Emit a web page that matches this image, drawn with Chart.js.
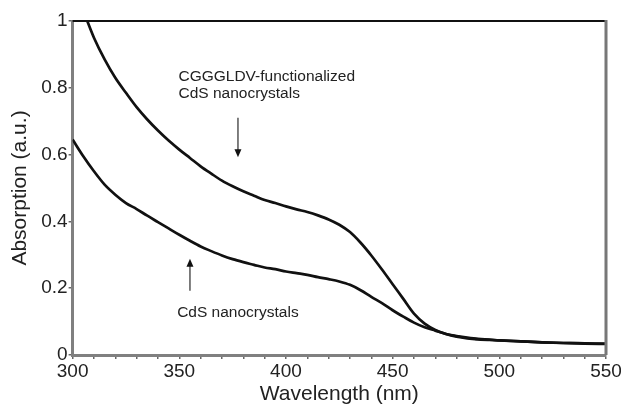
<!DOCTYPE html>
<html>
<head>
<meta charset="utf-8">
<script src="https://cdn.jsdelivr.net/npm/chart.js@4/dist/chart.umd.min.js"></script>
<style>
html,body{margin:0;padding:0;background:#fff;}
#wrap{width:621px;height:405px;position:relative;}
</style>
</head>
<body>
<div id="wrap"><canvas id="c" width="621" height="405"></canvas></div>
<script>
const wavelengths = [300,305,310,315,320,325,330,335,340,345,350,355,360,365,370,375,380,385,390,395,400,405,410,415,420,425,430,435,440,445,450,455,460,465,470,475,480,485,490,500,510,520,530,540,550];
const functionalized = [1.10,1.03,0.95,0.885,0.83,0.785,0.742,0.705,0.672,0.642,0.615,0.59,0.565,0.543,0.522,0.505,0.49,0.477,0.464,0.455,0.445,0.436,0.428,0.418,0.406,0.39,0.368,0.336,0.298,0.256,0.212,0.168,0.124,0.094,0.075,0.063,0.055,0.05,0.047,0.044,0.041,0.038,0.036,0.035,0.034];
const bare = [0.645,0.595,0.55,0.51,0.48,0.455,0.437,0.417,0.398,0.379,0.36,0.342,0.325,0.311,0.298,0.287,0.278,0.27,0.262,0.257,0.25,0.245,0.24,0.233,0.227,0.22,0.21,0.194,0.174,0.155,0.134,0.115,0.097,0.083,0.073,0.063,0.057,0.052,0.048,0.044,0.041,0.038,0.036,0.034,0.033];
const yTicks = [0,0.2,0.4,0.6,0.8,1];
const xLabelTicks = [300,350,400,450,500,550];
const annotations = [
  {lines:["CGGGLDV-functionalized","CdS nanocrystals"], x:349.6, y:0.832, arrowX:377.5, arrowFrom:0.71, arrowTo:0.592},
  {lines:["CdS nanocrystals"], x:349, y:0.126, arrowX:355, arrowFrom:0.192, arrowTo:0.288}
];

const FONT = "'Liberation Sans', Arial, Helvetica, sans-serif";

const framePlugin = {
  id:'frame',
  afterDatasetsDraw(chart){
    const {ctx, chartArea:a} = chart;
    ctx.save();
    ctx.strokeStyle = '#111';
    ctx.lineWidth = 2;
    ctx.beginPath();
    ctx.moveTo(a.left, a.top);
    ctx.lineTo(a.right+1, a.top);
    ctx.stroke();
    ctx.strokeStyle = '#777';
    ctx.lineWidth = 3;
    ctx.beginPath();
    ctx.moveTo(a.right, a.top-1);
    ctx.lineTo(a.right, a.bottom);
    ctx.stroke();
    ctx.restore();
  }
};

const annotPlugin = {
  id:'annot',
  afterDraw(chart){
    const {ctx} = chart;
    const xs = chart.scales.x, ys = chart.scales.y;
    ctx.save();
    ctx.font = "15.5px " + FONT;
    ctx.textBaseline = 'middle';
    ctx.textAlign = 'left';
    annotations.forEach(an=>{
      const px = xs.getPixelForValue(an.x);
      const py = ys.getPixelForValue(an.y);
      ctx.fillStyle = '#222';
      an.lines.forEach((t,i)=>ctx.fillText(t, px, py + i*17));
      const ax = xs.getPixelForValue(an.arrowX);
      const y1 = ys.getPixelForValue(an.arrowFrom);
      const y2 = ys.getPixelForValue(an.arrowTo);
      const dir = y2 > y1 ? 1 : -1;
      ctx.strokeStyle = '#555';
      ctx.lineWidth = 1.5;
      ctx.beginPath();
      ctx.moveTo(ax, y1);
      ctx.lineTo(ax, y2 - dir*6);
      ctx.stroke();
      ctx.fillStyle = '#111';
      ctx.beginPath();
      ctx.moveTo(ax, y2);
      ctx.lineTo(ax-3.5, y2 - dir*8);
      ctx.lineTo(ax+3.5, y2 - dir*8);
      ctx.closePath();
      ctx.fill();
    });
    ctx.restore();
  }
};

new Chart(document.getElementById('c'), {
  type:'line',
  data:{
    datasets:[
      {label:'CGGGLDV-functionalized CdS nanocrystals', data:wavelengths.map((w,i)=>({x:w,y:functionalized[i]})), borderColor:'#111', borderWidth:2.7, pointRadius:0, cubicInterpolationMode:'monotone', fill:false},
      {label:'CdS nanocrystals', data:wavelengths.map((w,i)=>({x:w,y:bare[i]})), borderColor:'#111', borderWidth:2.7, pointRadius:0, cubicInterpolationMode:'monotone', fill:false}
    ]
  },
  options:{
    responsive:false,
    animation:false,
    layout:{padding:{top:21, right:15, left:8, bottom:0}},
    plugins:{legend:{display:false}, tooltip:{enabled:false}},
    scales:{
      x:{
        type:'linear', min:300, max:550,
        border:{color:'#808080', width:3},
        grid:{drawOnChartArea:false, color:'#666', tickLength:4, lineWidth:1.5},
        afterFit:(s)=>{ s.paddingRight = 0; s.paddingLeft = 0; },
        ticks:{stepSize:10, autoSkip:false, maxRotation:0, color:'#222', font:{family:FONT, size:19, lineHeight:1.0}, padding:3,
          callback:(v)=> xLabelTicks.includes(v) ? String(v) : ''},
        title:{display:true, text:'Wavelength (nm)', color:'#222', font:{family:FONT, size:21, lineHeight:1.0}, padding:{top:0,bottom:0}}
      },
      y:{
        type:'linear', min:0, max:1,
        border:{color:'#808080', width:3},
        grid:{drawOnChartArea:false, color:'#666', tickLength:4, lineWidth:1.5},
        afterBuildTicks:(s)=>{ s.ticks = yTicks.map(v=>({value:v})); },
        ticks:{color:'#222', font:{family:FONT, size:19}, padding:1, callback:(v)=>String(v)},
        title:{display:true, text:'Absorption (a.u.)', color:'#222', font:{family:FONT, size:21, lineHeight:1.2}, padding:{top:0,bottom:7}}
      }
    }
  },
  plugins:[framePlugin, annotPlugin]
});
</script>
</body>
</html>
